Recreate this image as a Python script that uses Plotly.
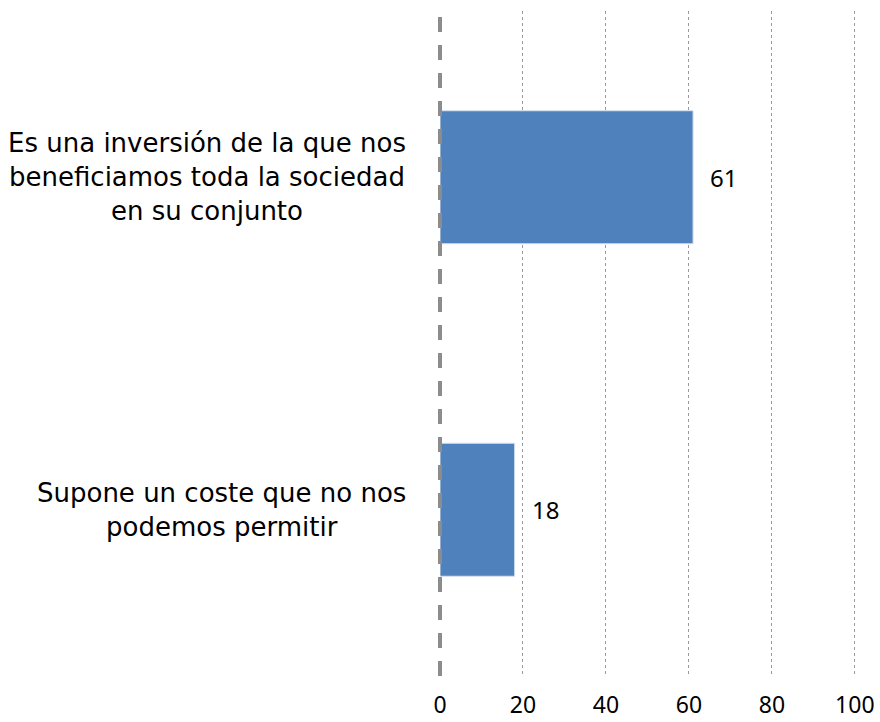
import plotly.graph_objects as go

categories = [
    "Es una inversión de la que nos<br>beneficiamos toda la sociedad<br>en su conjunto",
    "Supone un coste que no nos<br>podemos permitir",
]
values = [61, 18]
x_ticks = [0, 20, 40, 60, 80, 100]

LABEL_FONT = "DejaVu Sans"
NUM_FONT = "Noto Sans"
BAR_COLOR = "#4F81BD"

fig = go.Figure()
fig.add_trace(go.Bar(
    y=categories, x=values, orientation="h",
    marker=dict(color=BAR_COLOR, line=dict(color="#D6E0EE", width=1)),
    width=0.4, showlegend=False, hoverinfo="x",
))

# value labels to the right of each bar
for cat, v in zip(categories, values):
    fig.add_annotation(
        x=v, y=cat, text=str(v), showarrow=False,
        xanchor="left", xshift=15,
        font=dict(family=NUM_FONT, size=24, color="#000000"),
    )
    # category labels, centered lines, right edge left of the axis
    fig.add_annotation(
        x=0, xref="paper", y=cat, text=cat, showarrow=False,
        xanchor="right", xshift=-32, align="center",
        font=dict(family=LABEL_FONT, size=26, color="#000000"),
    )

# dashed zero line (paper ref so it is not clipped by the plot area)
fig.add_shape(
    type="line", xref="paper", yref="paper", x0=0, x1=0, y0=0, y1=1,
    line=dict(color="#8C8C8C", width=4, dash="15px,13px"),
)

fig.update_layout(
    width=880, height=722,
    paper_bgcolor="white", plot_bgcolor="white",
    margin=dict(l=440, r=21, t=11, b=46),
    font=dict(family=NUM_FONT, color="#000000"),
)
fig.update_xaxes(
    range=[0, 101], tickvals=x_ticks, ticks="", ticklabelstandoff=13,
    tickfont=dict(family=NUM_FONT, size=23, color="#000000"),
    showgrid=True, gridcolor="#9A9A9A", gridwidth=1, griddash="dot",
    zeroline=False, showline=False, automargin=False,
)
fig.update_yaxes(
    categoryorder="array", categoryarray=categories[::-1],
    showticklabels=False, showgrid=False, zeroline=False, showline=False,
    automargin=False,
)

# drop the default 8px body margin so the figure fills the window
fig.write_html(
    "out.html",
    config={"displayModeBar": False},
    post_script="document.body.style.margin='0';",
)
